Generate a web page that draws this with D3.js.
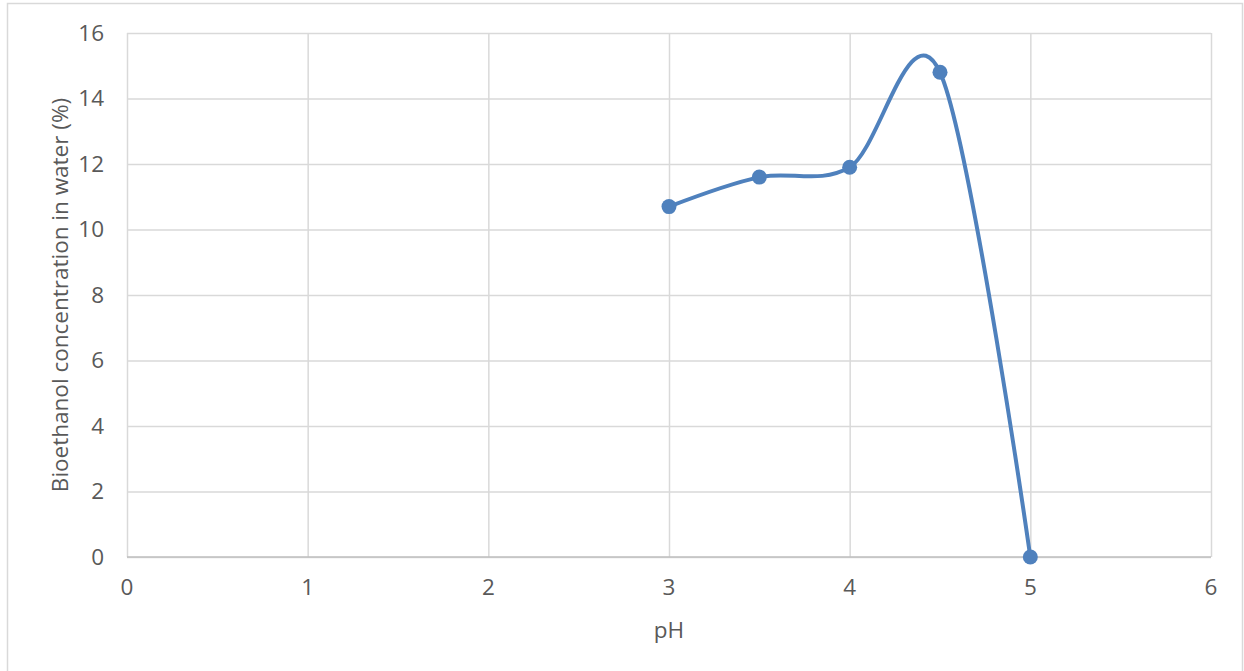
<!DOCTYPE html>
<html>
<head>
<meta charset="utf-8">
<script src="https://cdn.jsdelivr.net/npm/d3@7"></script>
<style>
  html, body { margin: 0; padding: 0; background: #fff; }
  svg { display: block; }
  text { font-family: "Open Sans", "Liberation Sans", sans-serif; fill: #595959; }
</style>
</head>
<body>
<svg id="chart" width="1244" height="671"></svg>
<script>
// pH values and measured bioethanol concentration
const phValues = [3, 3.5, 4, 4.5, 5];
const concentration = [10.7, 11.6, 11.9, 14.8, 0];
const xTicks = [0, 1, 2, 3, 4, 5, 6];
const yTicks = [0, 2, 4, 6, 8, 10, 12, 14, 16];
const xTitle = "pH";
const yTitle = "Bioethanol concentration in water (%)";

const svg = d3.select("#chart");
const W = 1244, H = 671;
const plot = { left: 127, right: 1211, top: 33, bottom: 557 };
const fontSize = 22.5;

// chart frame
svg.append("rect")
  .attr("x", 7.5).attr("y", 3.5)
  .attr("width", W - 9).attr("height", H + 10)
  .attr("fill", "#fff").attr("stroke", "#d9d9d9").attr("stroke-width", 1.5);

const x = d3.scaleLinear().domain([0, 6]).range([plot.left, plot.right]);
const y = d3.scaleLinear().domain([0, 16]).range([plot.bottom, plot.top]);

// vertical gridlines
svg.append("g").attr("transform", `translate(0,${plot.bottom})`)
  .call(d3.axisBottom(x).tickValues(xTicks).tickSize(-(plot.bottom - plot.top)).tickFormat(""))
  .call(g => g.select(".domain").remove())
  .call(g => g.selectAll("line").attr("stroke", "#d9d9d9").attr("stroke-width", 1.5));

// horizontal gridlines
svg.append("g").attr("transform", `translate(${plot.left},0)`)
  .call(d3.axisLeft(y).tickValues(yTicks).tickSize(-(plot.right - plot.left)).tickFormat(""))
  .call(g => g.select(".domain").remove())
  .call(g => g.selectAll("line").attr("stroke", "#d9d9d9").attr("stroke-width", 1.5));

// baseline
svg.append("line")
  .attr("x1", plot.left).attr("x2", plot.right)
  .attr("y1", y(0)).attr("y2", y(0))
  .attr("stroke", "#bfbfbf").attr("stroke-width", 1.5);

// tick labels
svg.append("g").selectAll("text").data(yTicks).join("text")
  .attr("x", 104).attr("y", d => y(d)).attr("dy", "0.35em")
  .attr("text-anchor", "end").attr("font-size", fontSize)
  .text(d => d);

svg.append("g").selectAll("text").data(xTicks).join("text")
  .attr("x", d => x(d)).attr("y", 587).attr("dy", "0.35em")
  .attr("text-anchor", "middle").attr("font-size", fontSize)
  .text(d => d);

// axis titles
svg.append("text")
  .attr("x", x(3)).attr("y", 630).attr("dy", "0.35em")
  .attr("text-anchor", "middle").attr("font-size", fontSize)
  .text(xTitle);

svg.append("text")
  .attr("transform", `translate(60,${(plot.top + plot.bottom) / 2}) rotate(-90)`)
  .attr("dy", "0.35em")
  .attr("text-anchor", "middle").attr("font-size", fontSize)
  .text(yTitle);

// smoothed series line
const points = phValues.map((p, i) => [p, concentration[i]]);
const line = d3.line()
  .x(d => x(d[0])).y(d => y(d[1]))
  .curve(d3.curveCardinal.tension(0));

svg.append("path")
  .datum(points)
  .attr("d", line)
  .attr("fill", "none")
  .attr("stroke", "#4f81bd")
  .attr("stroke-width", 4)
  .attr("stroke-linecap", "round");

// markers
svg.append("g").selectAll("circle").data(points).join("circle")
  .attr("cx", d => x(d[0])).attr("cy", d => y(d[1]))
  .attr("r", 7.5)
  .attr("fill", "#4f81bd");
</script>
</body>
</html>
